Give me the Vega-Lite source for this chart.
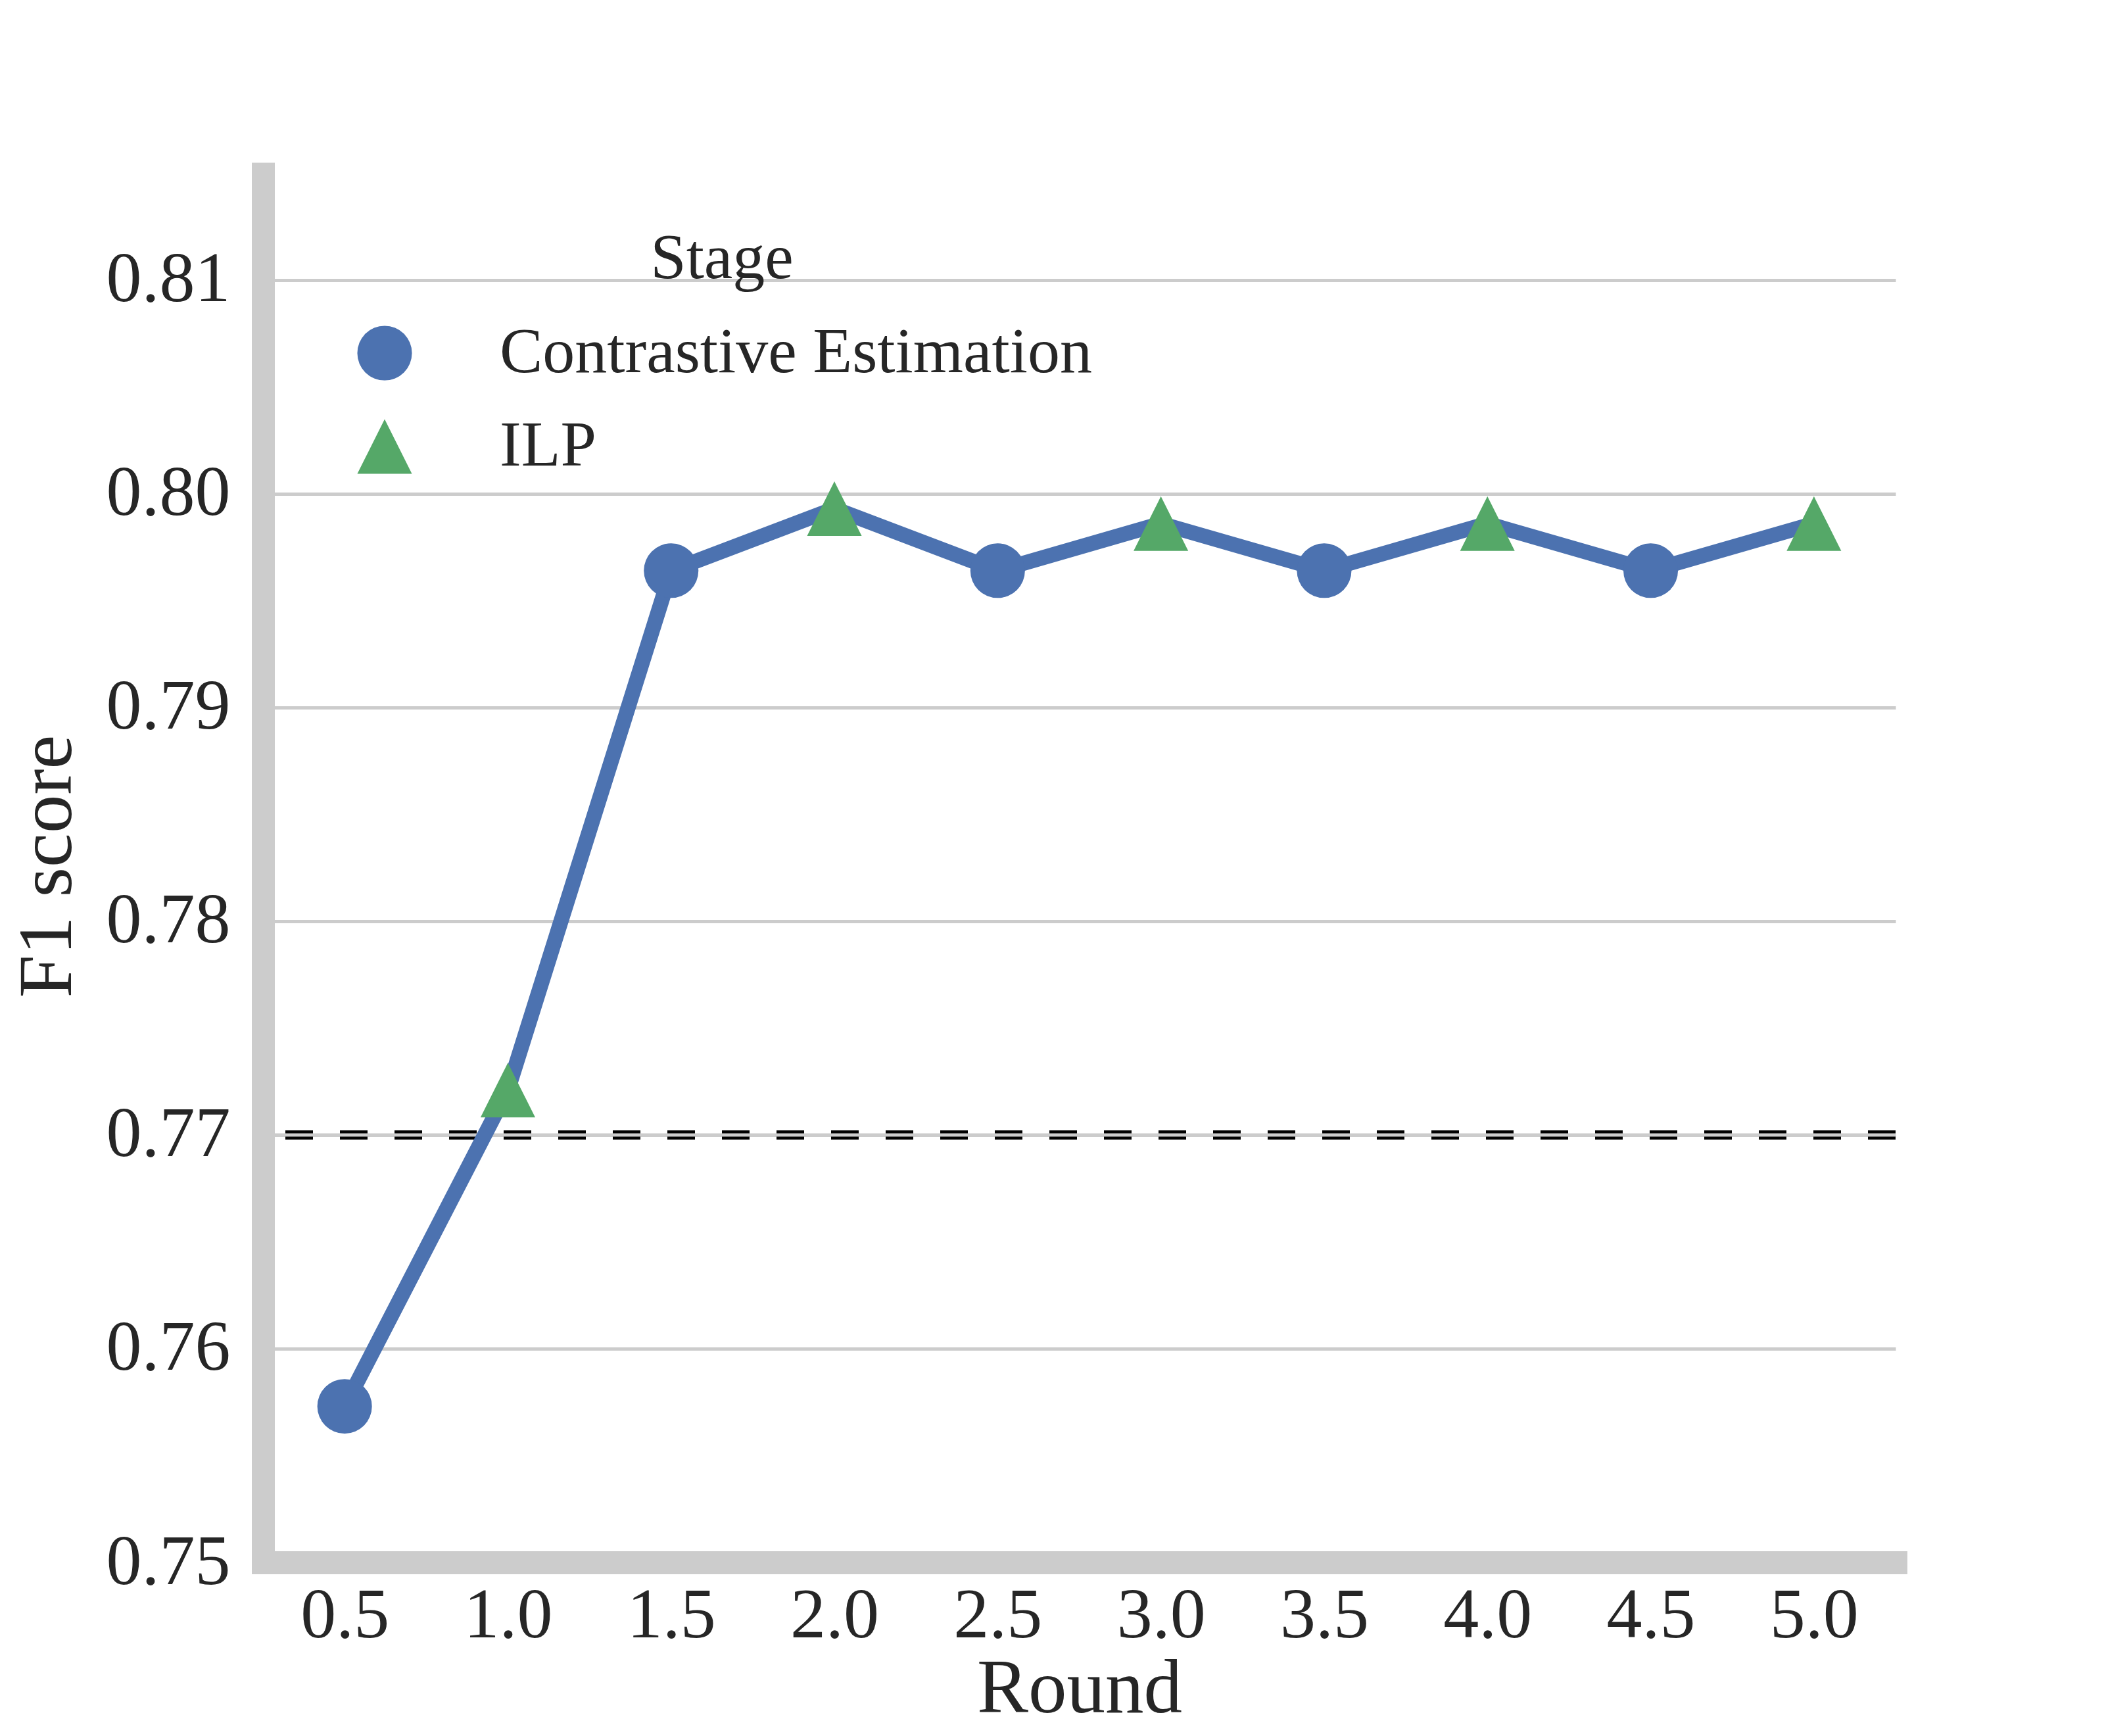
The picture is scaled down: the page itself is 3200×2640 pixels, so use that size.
{
  "$schema": "https://vega.github.io/schema/vega-lite/v6.json",
  "width": 2483,
  "height": 2129,
  "autosize": {"type": "none"},
  "padding": {"left": 400, "top": 247, "right": 317, "bottom": 264},
  "background": "white",
  "config": {
    "font": "Liberation Serif",
    "view": {"stroke": null},
    "axis": {
      "domainColor": "#cccccc",
      "domainWidth": 35,
      "ticks": false,
      "gridColor": "#cccccc",
      "gridWidth": 5,
      "labelFont": "Liberation Serif",
      "labelFontSize": 108,
      "labelColor": "#262626",
      "labelLimit": 0,
      "titleLimit": 0,
      "titleFont": "Liberation Serif",
      "titleFontSize": 117,
      "titleColor": "#262626",
      "titleFontWeight": "normal"
    },
    "axisX": {"grid": false, "labelPadding": 28, "titlePadding": 0, "domainCap": "square", "labelAngle": 0},
    "axisY": {"grid": true, "labelPadding": 50, "domainCap": "butt", "titleX": -268, "titleY": 1070},
    "legend": {
      "titleFont": "Liberation Serif",
      "titleFontSize": 98,
      "titleFontWeight": "normal",
      "titleColor": "#262626",
      "titleLimit": 0,
      "labelFont": "Liberation Serif",
      "labelFontSize": 98,
      "labelColor": "#262626",
      "labelLimit": 0,
      "symbolSize": 6900,
      "symbolStrokeWidth": 0,
      "labelOffset": 126,
      "rowPadding": 44,
      "titlePadding": 44,
      "titleAnchor": "middle",
      "padding": 0
    }
  },
  "datasets": {
    "scores": [
      {"round": "0.5", "f1": 0.7573, "stage": "Contrastive Estimation"},
      {"round": "1.0", "f1": 0.7721, "stage": "ILP"},
      {"round": "1.5", "f1": 0.7964, "stage": "Contrastive Estimation"},
      {"round": "2.0", "f1": 0.7993, "stage": "ILP"},
      {"round": "2.5", "f1": 0.7964, "stage": "Contrastive Estimation"},
      {"round": "3.0", "f1": 0.7986, "stage": "ILP"},
      {"round": "3.5", "f1": 0.7964, "stage": "Contrastive Estimation"},
      {"round": "4.0", "f1": 0.7986, "stage": "ILP"},
      {"round": "4.5", "f1": 0.7964, "stage": "Contrastive Estimation"},
      {"round": "5.0", "f1": 0.7986, "stage": "ILP"}
    ],
    "baseline": [{"f1": 0.77}]
  },
  "layer": [
    {
      "data": {"name": "baseline"},
      "mark": {"type": "rule", "color": "black", "strokeWidth": 14, "strokeDash": [42, 41]},
      "encoding": {
        "y": {"field": "f1", "type": "quantitative", "scale": {"domain": [0.75, 0.8155], "nice": false, "zero": false},
              "axis": {"title": "F1 score", "values": [0.75, 0.76, 0.77, 0.78, 0.79, 0.8, 0.81], "format": ".2f"}}
      }
    },
    {
      "data": {"name": "baseline"},
      "mark": {"type": "rule", "color": "#cccccc", "strokeWidth": 5},
      "encoding": {
        "y": {"field": "f1", "type": "quantitative", "scale": {"domain": [0.75, 0.8155], "nice": false, "zero": false},
              "axis": {"title": "F1 score", "values": [0.75, 0.76, 0.77, 0.78, 0.79, 0.8, 0.81], "format": ".2f"}}
      }
    },
    {
      "data": {"name": "scores"},
      "mark": {"type": "line", "color": "#4c72b0", "strokeWidth": 23},
      "encoding": {
        "x": {"field": "round", "type": "ordinal", "scale": {"type": "point", "padding": 0.5}, "axis": {"title": "Round"}},
        "y": {"field": "f1", "type": "quantitative", "scale": {"domain": [0.75, 0.8155], "nice": false, "zero": false},
              "axis": {"title": "F1 score", "values": [0.75, 0.76, 0.77, 0.78, 0.79, 0.8, 0.81], "format": ".2f"}}
      }
    },
    {
      "data": {"name": "scores"},
      "mark": {"type": "point", "filled": true, "opacity": 1, "size": 6900},
      "encoding": {
        "x": {"field": "round", "type": "ordinal", "scale": {"type": "point", "padding": 0.5}, "axis": {"title": "Round"}},
        "y": {"field": "f1", "type": "quantitative", "scale": {"domain": [0.75, 0.8155], "nice": false, "zero": false},
              "axis": {"title": "F1 score", "values": [0.75, 0.76, 0.77, 0.78, 0.79, 0.8, 0.81], "format": ".2f"}},
        "color": {"field": "stage", "type": "nominal",
                  "scale": {"domain": ["Contrastive Estimation", "ILP"], "range": ["#4c72b0", "#55a868"]},
                  "legend": {"title": "Stage", "orient": "none", "legendX": 136, "legendY": 99}},
        "shape": {"field": "stage", "type": "nominal",
                  "scale": {"domain": ["Contrastive Estimation", "ILP"], "range": ["circle", "M0,-1L-1,1L1,1Z"]},
                  "legend": {"title": "Stage", "orient": "none", "legendX": 136, "legendY": 99}}
      }
    }
  ]
}
